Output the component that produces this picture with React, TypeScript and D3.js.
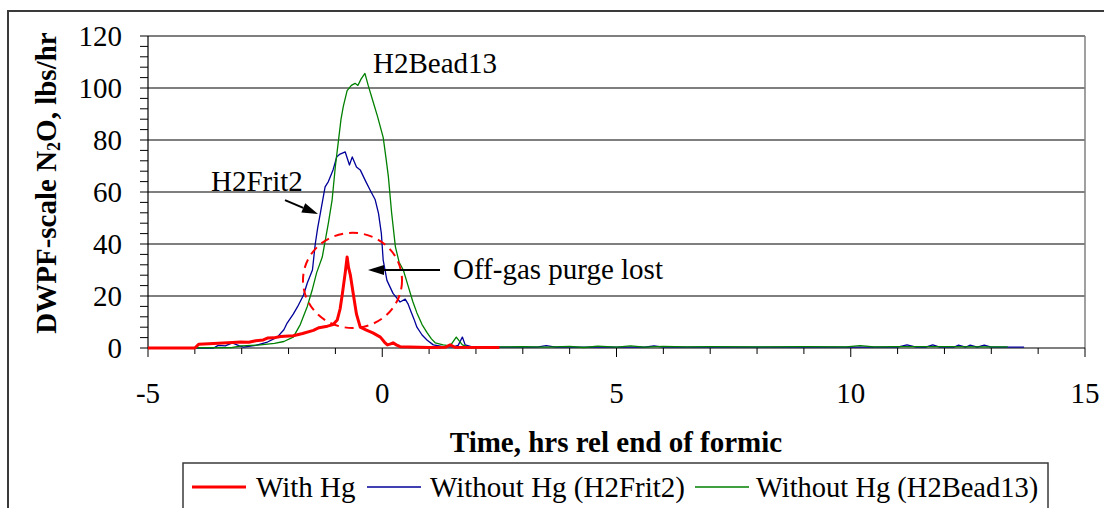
import React from "react";
import * as d3 from "d3";

type Pt = [number, number];

// ---- data (time, hrs rel end of formic ; N2O lbs/hr) ----
const withHg: Pt[] = [
  [-5, 0], [-4.0, 0], [-3.92, 1.4], [-3.7, 1.6], [-3.4, 1.9], [-3.2, 2.1], [-3.03, 2.3], [-2.85, 2.2],
  [-2.7, 2.8], [-2.54, 3.1], [-2.45, 3.8], [-2.32, 3.9], [-2.17, 4.4], [-1.9, 4.7], [-1.7, 5.6],
  [-1.47, 6.8], [-1.35, 7.8], [-1.17, 8.4], [-1.05, 9], [-0.96, 10.8], [-0.9, 15], [-0.85, 21],
  [-0.79, 29], [-0.75, 35], [-0.72, 31], [-0.68, 28], [-0.62, 21], [-0.55, 13], [-0.47, 8],
  [-0.35, 7], [-0.2, 5.8], [-0.04, 4.2], [0.05, 2.2], [0.11, 1.2], [0.18, 1.6], [0.23, 2],
  [0.3, 1.2], [0.38, 0.5], [1.0, 0.2], [1.35, 0.3], [1.45, 1.2], [1.55, 0.3], [2.5, 0.2]
];

const withoutHgFrit: Pt[] = [
  [-5, 0], [-3.6, 0], [-3.5, 1], [-3.35, 0.8], [-3.2, 2], [-3.05, 0.8], [-2.96, 0.3], [-2.7, 1],
  [-2.45, 2.3], [-2.24, 4.2], [-2.1, 7], [-2.03, 9.6], [-1.9, 13], [-1.81, 15.8], [-1.68, 20.4],
  [-1.6, 25], [-1.49, 30], [-1.43, 40], [-1.38, 46], [-1.32, 52], [-1.22, 62], [-1.15, 64],
  [-1.05, 68.5], [-0.97, 73.6], [-0.9, 74.6], [-0.79, 75.4], [-0.7, 70.4], [-0.64, 73.5],
  [-0.55, 69.6], [-0.47, 68.5], [-0.35, 64], [-0.26, 60.8], [-0.15, 57], [-0.08, 51.8],
  [-0.02, 44.2], [0.02, 33.8], [0.1, 26], [0.23, 21], [0.38, 17.7], [0.49, 18.8], [0.55, 17],
  [0.6, 14.6], [0.68, 11], [0.74, 8], [0.85, 5], [0.96, 3], [1.09, 1.2], [1.3, 0.5], [1.51, 0.4],
  [1.62, 1], [1.71, 4.2], [1.77, 1.2], [1.9, 0.5], [2.5, 0.3], [3.3, 0.3], [3.5, 0.9], [3.7, 0.3],
  [5.6, 0.3], [5.8, 0.8], [6.0, 0.3], [8, 0.3], [11, 0.3], [11.2, 1.2], [11.4, 0.3], [11.6, 0.3],
  [11.75, 1.2], [11.9, 0.3], [12.2, 0.3], [12.3, 1.1], [12.45, 0.3], [12.55, 1.1], [12.7, 0.3],
  [12.85, 1.1], [13.0, 0.3], [13.7, 0.3]
];

const withoutHgBead: Pt[] = [
  [-5, 0], [-3.2, 0.2], [-3.0, 0.8], [-2.6, 1.2], [-2.3, 1.8], [-2.1, 2.5], [-1.9, 4.2], [-1.75, 9],
  [-1.6, 16], [-1.5, 22], [-1.4, 29], [-1.28, 35], [-1.15, 48], [-1.07, 57], [-1.0, 70], [-0.94, 79],
  [-0.88, 88], [-0.83, 93], [-0.75, 99], [-0.66, 101], [-0.58, 101.8], [-0.52, 101], [-0.45, 103.5],
  [-0.37, 105.6], [-0.3, 101], [-0.2, 95], [-0.1, 89], [0.02, 81], [0.08, 73], [0.13, 66], [0.2, 52],
  [0.28, 39], [0.36, 33], [0.45, 30], [0.55, 24], [0.65, 18], [0.74, 13.5], [0.85, 9], [0.96, 5.8],
  [1.05, 3.5], [1.13, 2], [1.3, 1.2], [1.45, 0.8], [1.58, 4.2], [1.71, 1.2], [1.8, 0.6], [2.0, 0.5],
  [2.5, 0.4], [3.0, 0.5], [3.5, 0.3], [4.0, 0.6], [4.3, 0.2], [4.6, 0.7], [5.0, 0.3], [5.3, 0.8],
  [5.6, 0.3], [6.0, 0.6], [6.5, 0.4], [7.0, 0.5], [8.0, 0.4], [9.0, 0.5], [9.9, 0.4], [10.2, 0.9],
  [10.5, 0.4], [11.0, 0.5], [12.0, 0.5], [13.0, 0.4], [13.35, 0.4]
];

const xMajorTicks = [-5, 0, 5, 10, 15];
const xMinorTicks = d3.range(-5, 15.001, 1);
const yMajorTicks = [0, 20, 40, 60, 80, 100, 120];
const yMinorTicks = d3.range(0, 120.001, 4);

const seriesNames = ["With Hg", "Without Hg (H2Frit2)", "Without Hg (H2Bead13)"];
const seriesColors = ["#ff0000", "#000099", "#008000"];
const seriesWidths = [3, 1.3, 1.3];

// annotations in data units
const labelBead = { t: -0.197, v: 105.8, text: "H2Bead13" };
const labelFrit = { t: -3.655, v: 60.4, text: "H2Frit2" };
const arrowFrit = { t0: -2.076, v0: 56.9, t1: -1.371, v1: 51.5 };
const labelPurge = { t: 1.51, v: 26.5, text: "Off-gas purge lost" };
const arrowPurge = { t0: 1.233, v0: 30, t1: -0.304, v1: 30 };
const purgeEllipse = { t: -0.635, v: 26, rt: 1.057, rv: 18.3 };

const W = 1104;
const H = 508;
const FONT = "'Liberation Serif', 'Times New Roman', serif";
const FS = 29;

const x = d3.scaleLinear().domain([-5, 15]).range([148, 1085]);
const y = d3.scaleLinear().domain([0, 120]).range([348, 36]);

const line = d3
  .line<Pt>()
  .x((d) => x(d[0]))
  .y((d) => y(d[1]));

function Arrow({ x0, y0, x1, y1 }: { x0: number; y0: number; x1: number; y1: number }) {
  const ang = Math.atan2(y1 - y0, x1 - x0);
  const len = 16;
  const hw = 5;
  const bx = x1 - len * Math.cos(ang);
  const by = y1 - len * Math.sin(ang);
  const px = -Math.sin(ang) * hw;
  const py = Math.cos(ang) * hw;
  return (
    <g>
      <line x1={x0} y1={y0} x2={bx} y2={by} stroke="#000" strokeWidth={2} />
      <polygon points={`${x1},${y1} ${bx + px},${by + py} ${bx - px},${by - py}`} fill="#000" />
    </g>
  );
}

export default function App() {
  const data = [withHg, withoutHgFrit, withoutHgBead];
  const legendItems = [
    { lx: 192, tx: 256 },
    { lx: 367, tx: 430 },
    { lx: 695, tx: 756 }
  ];
  return (
    <svg
      width={W}
      height={H}
      style={{ position: "absolute", left: 0, top: 0, display: "block", background: "#fff" }}
      fontFamily={FONT}
    >
      <rect x={0} y={0} width={W} height={H} fill="#fff" />
      {/* outer chart frame */}
      <rect x={8} y={11} width={W + 20} height={H + 20} fill="none" stroke="#3a3a3a" strokeWidth={2} />

      {/* gridlines */}
      {yMajorTicks.filter((v) => v > 0).map((v) => (
        <line key={"g" + v} x1={x(-5)} x2={x(15)} y1={y(v)} y2={y(v)} stroke="#000" strokeWidth={1.2} />
      ))}
      {/* right border */}
      <line x1={x(15)} x2={x(15)} y1={y(120)} y2={y(0)} stroke="#808080" strokeWidth={1.5} />

      {/* y axis */}
      <line x1={x(-5)} x2={x(-5)} y1={y(0)} y2={y(120)} stroke="#000" strokeWidth={1.2} />
      {yMinorTicks.map((v) => (
        <line key={"ym" + v} x1={x(-5) - 8} x2={x(-5)} y1={y(v)} y2={y(v)} stroke="#000" strokeWidth={1} />
      ))}
      {yMajorTicks.map((v) => (
        <text key={"yl" + v} x={122} y={y(v)} dy="0.35em" textAnchor="end" fontSize={FS}>
          {v}
        </text>
      ))}

      {/* x axis */}
      <line x1={x(-5)} x2={x(15)} y1={y(0)} y2={y(0)} stroke="#000" strokeWidth={1.2} />
      {xMinorTicks.map((t) => (
        <line
          key={"xm" + t}
          x1={x(t)}
          x2={x(t)}
          y1={y(0)}
          y2={y(0) + (xMajorTicks.includes(t) ? 9 : 6)}
          stroke="#000"
          strokeWidth={1}
        />
      ))}
      {xMajorTicks.map((t) => (
        <text key={"xl" + t} x={x(t)} y={403} textAnchor="middle" fontSize={FS}>
          {t}
        </text>
      ))}

      {/* series */}
      {[1, 2, 0].map((i) => (
        <path
          key={"s" + i}
          d={line(data[i]) || ""}
          fill="none"
          stroke={seriesColors[i]}
          strokeWidth={seriesWidths[i]}
          strokeLinejoin="round"
        />
      ))}

      {/* annotations */}
      <ellipse
        cx={x(purgeEllipse.t)}
        cy={y(purgeEllipse.v)}
        rx={x(purgeEllipse.t + purgeEllipse.rt) - x(purgeEllipse.t)}
        ry={y(0) - y(purgeEllipse.rv)}
        fill="none"
        stroke="#ff0000"
        strokeWidth={2}
        strokeDasharray="9,6"
      />
      <text x={x(labelBead.t)} y={y(labelBead.v)} fontSize={FS}>
        {labelBead.text}
      </text>
      <text x={x(labelFrit.t)} y={y(labelFrit.v)} fontSize={FS}>
        {labelFrit.text}
      </text>
      <Arrow x0={x(arrowFrit.t0)} y0={y(arrowFrit.v0)} x1={x(arrowFrit.t1)} y1={y(arrowFrit.v1)} />
      <text x={x(labelPurge.t)} y={y(labelPurge.v)} fontSize={FS}>
        {labelPurge.text}
      </text>
      <Arrow x0={x(arrowPurge.t0)} y0={y(arrowPurge.v0)} x1={x(arrowPurge.t1)} y1={y(arrowPurge.v1)} />

      {/* axis titles */}
      <text x={616} y={452} textAnchor="middle" fontSize={FS} fontWeight="bold">
        Time, hrs rel end of formic
      </text>
      <text transform="translate(56,183) rotate(-90)" textAnchor="middle" fontSize={FS} fontWeight="bold">
        DWPF-scale N
        <tspan fontSize={18} dy={4}>2</tspan>
        <tspan dy={-4}>O, lbs/hr</tspan>
      </text>

      {/* legend */}
      <rect x={183} y={463} width={865} height={46} fill="#fff" stroke="#3a3a3a" strokeWidth={1.5} />
      {legendItems.map((it, i) => (
        <g key={"lg" + i}>
          <line
            x1={it.lx}
            x2={it.lx + 54}
            y1={487}
            y2={487}
            stroke={seriesColors[i]}
            strokeWidth={seriesWidths[i]}
          />
          <text x={it.tx} y={497} fontSize={i === 2 ? 28.5 : FS}>
            {seriesNames[i]}
          </text>
        </g>
      ))}
    </svg>
  );
}
